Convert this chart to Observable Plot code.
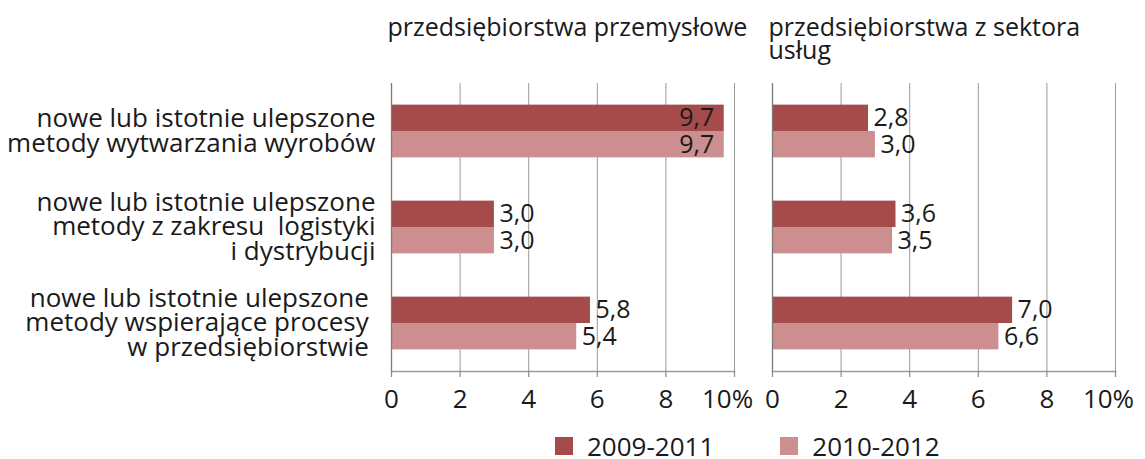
<!DOCTYPE html>
<html>
<head>
<meta charset="utf-8">
<script src="https://cdn.jsdelivr.net/npm/d3@7"></script>
<script src="https://cdn.jsdelivr.net/npm/@observablehq/plot@0.6"></script>
<style>
  html, body { margin: 0; padding: 0; background: #fff; }
  body { width: 1145px; height: 459px; overflow: hidden; font-family: "Open Sans", sans-serif; position: relative; }
  #legend { position: absolute; left: 555px; top: 434px; display: flex; font-size: 26px; line-height: 24px; color: #1a1a1a; }
  .sw { display: flex; align-items: center; }
  .sw i { display: inline-block; width: 18px; height: 18px; margin-right: 14px; }
</style>
</head>
<body>
<div id="chart"></div>
<script>
// ---- data ----
const sectors = ["przedsiębiorstwa przemysłowe", "przedsiębiorstwa z sektora\nusług"];
const categories = [
  "nowe lub istotnie ulepszone\nmetody wytwarzania wyrobów",
  "nowe lub istotnie ulepszone\nmetody z zakresu  logistyki\ni dystrybucji",
  "nowe lub istotnie ulepszone\u00a0\nmetody wspierające procesy\u00a0\nw przedsiębiorstwie\u00a0"
];
const series = ["2009-2011", "2010-2012"];
const seriesColors = ["#a54b4b", "#cc8e8e"];
const industry2009 = [9.7, 3.0, 5.8];
const industry2010 = [9.7, 3.0, 5.4];
const services2009 = [2.8, 3.6, 7.0];
const services2010 = [3.0, 3.5, 6.6];
const xTicks = [0, 2, 4, 6, 8, 10];
const xTickLabels = ["0", "2", "4", "6", "8", "10%"];

const table = [];
[[industry2009, industry2010], [services2009, services2010]].forEach((pair, si) => {
  pair.forEach((vals, ri) => {
    vals.forEach((v, ci) => {
      table.push({sector: sectors[si], series: series[ri], category: categories[ci], value: v});
    });
  });
});
const lastCat = categories[categories.length - 1];
const tickData = [];
sectors.forEach(s => xTicks.forEach((t, i) => tickData.push({sector: s, t, label: xTickLabels[i], category: lastCat})));
const gridData = [];
sectors.forEach(s => categories.forEach(c => xTicks.forEach(t => gridData.push({sector: s, category: c, t}))));
const catData = categories.map(c => ({sector: sectors[0], category: c}));
const titleData = sectors.map(s => ({sector: s, category: categories[0]}));
const frameData = [];
sectors.forEach(s => categories.forEach(c => frameData.push({sector: s, category: c})));
const fmt = v => v.toFixed(1).replace(".", ",");
const inside = d => d.value > 8.5;
const ink = "#1a1a1a";

const chart = Plot.plot({
  width: 1145,
  height: 430,
  marginLeft: 391,
  marginRight: 30,
  marginTop: 83,
  marginBottom: 59,
  style: {fontFamily: "Open Sans", fontSize: "26px", color: ink, background: "transparent"},
  fx: {domain: sectors, paddingInner: 0.0997, paddingOuter: 0, round: false, axis: null},
  fy: {domain: categories, padding: 0, round: false, axis: null},
  x: {domain: [0, 10], axis: null},
  y: {domain: series, paddingInner: 0, paddingOuter: 0.82, round: false, axis: null},
  color: {domain: series, range: seriesColors},
  marks: [
    // gridlines
    Plot.ruleX(gridData.filter(d => d.t > 0), {fx: "sector", fy: "category", x: "t", stroke: "#9a9a9a", strokeWidth: 1}),
    // bars
    Plot.barX(table, {fx: "sector", fy: "category", y: "series", x: "value", fill: "series"}),
    // vertical axis line at 0
    Plot.ruleX(frameData, {fx: "sector", fy: "category", x: 0, stroke: "#7a7a7a", strokeWidth: 1.3}),
    // bottom axis line and ticks
    Plot.frame({anchor: "bottom", facetAnchor: "bottom", stroke: "#9a9a9a", strokeWidth: 1.5}),
    Plot.axisX({ticks: xTicks, anchor: "bottom", tickSize: 6, tickFormat: () => "", stroke: "#8a8a8a", strokeWidth: 1.2, strokeOpacity: 1}),
    // value labels
    Plot.text(table.filter(d => !inside(d)), {fx: "sector", fy: "category", y: "series", x: "value", text: d => fmt(d.value), textAnchor: "start", dx: 5, fontSize: 25, fill: ink}),
    Plot.text(table.filter(inside), {fx: "sector", fy: "category", y: "series", x: "value", text: d => fmt(d.value), textAnchor: "end", dx: -10, fontSize: 25, fill: ink}),
    // category labels
    Plot.text(catData, {fx: "sector", fy: "category", frameAnchor: "left", text: "category", textAnchor: "end", dx: -16, lineHeight: 0.95, fontSize: 26, fill: ink}),
    // panel titles
    Plot.text(titleData, {fx: "sector", fy: "category", frameAnchor: "top-left", text: "sector", textAnchor: "start", lineAnchor: "top", dy: -64, dx: -4, lineHeight: 0.92, fontSize: 25, fill: ink}),
    // tick labels
    Plot.text(tickData.filter(d => d.t < 10), {fx: "sector", fy: "category", x: "t", text: "label", frameAnchor: "bottom", lineAnchor: "middle", dy: 28, fontSize: 26, fill: ink}),
    Plot.text(tickData.filter(d => d.t === 10), {fx: "sector", fy: "category", x: "t", text: "label", frameAnchor: "bottom", lineAnchor: "middle", dy: 28, dx: -7, fontSize: 26, fill: ink})
  ]
});
document.getElementById("chart").appendChild(chart);

const lg = document.createElement("div");
lg.id = "legend";
series.forEach((s, i) => {
  const el = document.createElement("span");
  el.className = "sw";
  el.style.marginRight = i === 0 ? "66px" : "0";
  el.innerHTML = `<i style="background:${seriesColors[i]}"></i>${s}`;
  lg.appendChild(el);
});
document.body.appendChild(lg);
</script>
</body>
</html>
